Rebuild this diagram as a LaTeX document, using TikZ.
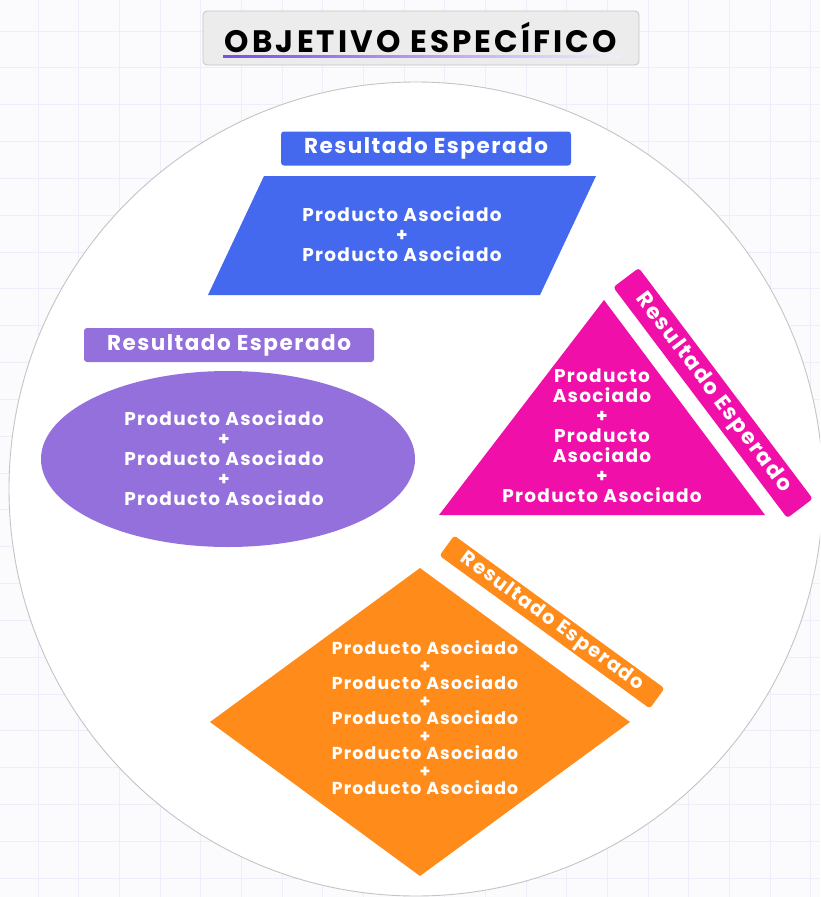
\documentclass[tikz,border=0pt]{standalone}
\usepackage{fontspec}
\setmainfont{Poppins}
\newfontfamily\widefont[LetterSpace=7.0]{Poppins}
\newfontfamily\titlefont[LetterSpace=10.0]{Poppins}
\usetikzlibrary{shapes.geometric}
\definecolor{gridbg}{HTML}{FBFBFE}
\definecolor{gridln}{HTML}{ECEFFA}
\definecolor{ringln}{HTML}{C4C4C4}
\definecolor{titlebg}{HTML}{ECECEC}
\definecolor{titleln}{HTML}{C4C4C4}
\definecolor{resblue}{HTML}{4469EE}
\definecolor{respurple}{HTML}{9370DB}
\definecolor{respink}{HTML}{F00FA8}
\definecolor{resorange}{HTML}{FF8C1A}
\definecolor{underln}{HTML}{7A4DE6}
\tikzset{
  gridline/.style={draw=gridln, line width=0.8pt},
  tag/.style={rounded corners=3pt, text=white, inner sep=0pt, minimum width=290pt, minimum height=34pt, font=\widefont\fontsize{21.5}{24}\selectfont\bfseries},
  body/.style={text=white, align=center, inner sep=0pt, font=\widefont\fontsize{18.5}{20}\selectfont\bfseries},
  titlebox/.style={draw=titleln, fill=titlebg, rounded corners=4pt, line width=0.8pt, minimum width=436pt, minimum height=54pt}}

\begin{document}
\begin{tikzpicture}[x=1pt, y=-1pt]
  \useasboundingbox (0,0) rectangle (820,897);
  \clip (0,0) rectangle (820,897);
  % background grid
  \fill[gridbg] (0,0) rectangle (820,897);
  \foreach \gx in {0,...,19} {\draw[gridline] ({38+40.67*\gx},0) -- ++(0,897);}
  \foreach \gy in {0,...,23} {\draw[gridline] (0,{31+36.83*\gy}) -- ++(820,0);}
  % big ring
  \draw[ringln, fill=white, line width=0.9pt] (416,489) circle (407);
  % title
  \node[titlebox] (title) at (421,38) {};
  \node[font=\titlefont\fontsize{31}{33}\selectfont\bfseries, inner sep=0pt] (titletext) at (421,37) {OBJETIVO ESPECÍFICO};
  \shade[left color=underln, right color=underln!10] (223,55.5) rectangle (620,57.3);
  % blue: parallelogram
  \node[tag, fill=resblue] (tagblue) at (426,148.5) {Resultado Esperado};
  \fill[resblue] (264,176) -- (596,176) -- (540,295) -- (208,295) -- cycle;
  \node[body] (bodyblue) at (402,234) {Producto Asociado\\+\\Producto Asociado};
  % purple: ellipse
  \node[tag, fill=respurple] (tagpurple) at (229,345) {Resultado Esperado};
  \node[ellipse, fill=respurple, minimum width=374pt, minimum height=176pt] (ovalpurple) at (228,459) {};
  \node[body] (bodypurple) at (224,458) {Producto Asociado\\+\\Producto Asociado\\+\\Producto Asociado};
  % pink: triangle
  \fill[respink] (604,300) -- (765,515) -- (439,515) -- cycle;
  \node[tag, fill=respink, rotate=-53, minimum width=289pt, minimum height=32pt] (tagpink) at (713,393) {Resultado Esperado};
  \node[body] (bodypink) at (602,436) {Producto\\Asociado\\+\\Producto\\Asociado\\+\\Producto Asociado};
  % orange: diamond
  \fill[resorange] (420,568) -- (630,722) -- (420,876) -- (210,722) -- cycle;
  \node[tag, fill=resorange, rotate=-36, minimum width=260pt, minimum height=25pt, font=\widefont\fontsize{19.5}{22}\selectfont\bfseries] (tagorange) at (552,622) {Resultado Esperado};
  \node[body, font=\widefont\fontsize{17.3}{17.5}\selectfont\bfseries] (bodyorange) at (425,718) {Producto Asociado\\+\\Producto Asociado\\+\\Producto Asociado\\+\\Producto Asociado\\+\\Producto Asociado};
\end{tikzpicture}
\end{document}
